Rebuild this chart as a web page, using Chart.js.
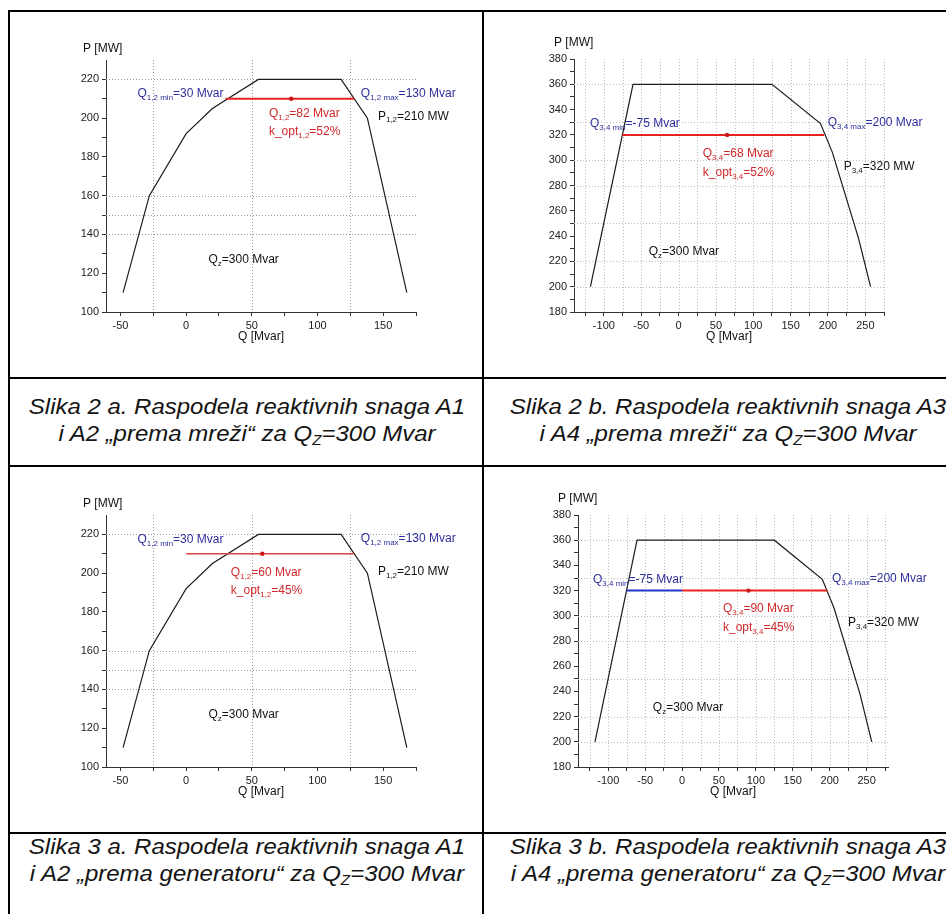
<!DOCTYPE html>
<html>
<head>
<meta charset="utf-8">
<script src="https://cdn.jsdelivr.net/npm/chart.js@4.4.1/dist/chart.umd.min.js"></script>
<style>
  body { margin:0; width:946px; height:914px; overflow:hidden; position:relative; background:#fff; font-family:"Liberation Sans", Arial, sans-serif; }
  .rule { position:absolute; background:#000; }
  .box { position:absolute; }
  .cap { position:absolute; width:470px; font-style:italic; font-size:22px; line-height:26.7px; text-align:center; color:#141414; white-space:nowrap; transform:scaleX(1.09); transform-origin:50% 50%; }
  .cap sub { font-size:14px; vertical-align:-4px; line-height:0; }
</style>
</head>
<body>
<div class="rule" style="left:8px;top:10px;width:2px;height:904px"></div>
<div class="rule" style="left:8px;top:10px;width:938px;height:2px"></div>
<div class="rule" style="left:482px;top:10px;width:2px;height:904px"></div>
<div class="rule" style="left:8px;top:377px;width:938px;height:2px"></div>
<div class="rule" style="left:8px;top:465px;width:938px;height:2px"></div>
<div class="rule" style="left:8px;top:832px;width:938px;height:2px"></div>

<div class="box" style="left:10px;top:12px"><canvas id="c1" width="472" height="365"></canvas></div>
<div class="box" style="left:484px;top:12px"><canvas id="c2" width="462" height="365"></canvas></div>
<div class="box" style="left:10px;top:467px"><canvas id="c3" width="472" height="365"></canvas></div>
<div class="box" style="left:484px;top:467px"><canvas id="c4" width="462" height="365"></canvas></div>

<div class="cap" style="left:12px;top:394px">Slika 2 a. Raspodela reaktivnih snaga A1<br>i A2 „prema mreži“ za Q<sub>Z</sub>=300 Mvar</div>
<div class="cap" style="left:493px;top:394px">Slika 2 b. Raspodela reaktivnih snaga A3<br>i A4 „prema mreži“ za Q<sub>Z</sub>=300 Mvar</div>
<div class="cap" style="left:12px;top:834px">Slika 3 a. Raspodela reaktivnih snaga A1<br>i A2 „prema generatoru“ za Q<sub>Z</sub>=300 Mvar</div>
<div class="cap" style="left:493px;top:834px">Slika 3 b. Raspodela reaktivnih snaga A3<br>i A4 „prema generatoru“ za Q<sub>Z</sub>=300 Mvar</div>

<script>
// capability curve of A1/A2 (Q in Mvar, P in MW)
let qA = [-48, -28, 0, 20, 55, 118, 138, 168];
let pA = [110, 160, 192, 205, 220, 220, 200, 110];
// capability curve of A3/A4
let qB = [-118, -61, 125, 190, 206, 241, 257];
let pB = [200, 360, 360, 329, 306, 238, 200];

// operating lines, one entry per panel: 2a, 2b, 3a, 3b
let pSet = [210, 320, 210, 320];
let redFrom = [30, -75, 0, 0];
let redTo = [128, 195, 128, 197];
let blueFrom = [null, null, null, -75];
let blueTo = [null, null, null, 0];
let qDot = [80, 65, 58, 90];

// tick labels
let qLabelsA = [-50, 0, 50, 100, 150];
let pLabelsA = [100, 120, 140, 160, 180, 200, 220];
let qLabelsB = [-100, -50, 0, 50, 100, 150, 200, 250];
let pLabelsB = [180, 200, 220, 240, 260, 280, 300, 320, 340, 360, 380];

// dotted guide lines
let qGuideA = [-25, 50, 125];
let pGuideA = [220, 160, 150, 140];
let qGuideB = [-125, -100, -75, -50, -25, 0, 25, 50, 75, 100, 125, 150, 175, 200, 225, 250, 275];
let pGuideB = [360, 330, 300, 280, 250, 220, 200];

const BLUE = '#2e2f9c';
const RED = '#d2282a';
const FONT = '"Liberation Sans", Arial, sans-serif';

function range(a, b, step) {
  let out = [];
  for (let v = a; v <= b + 1e-9; v += step) out.push(v);
  return out;
}

function drawParts(ctx, x, y, parts, color) {
  ctx.fillStyle = color;
  ctx.textBaseline = 'middle';
  parts.forEach(function (p) {
    if (p[1]) {
      ctx.font = '8px ' + FONT;
      ctx.fillText(p[0], x, y + 4);
    } else {
      ctx.font = '12px ' + FONT;
      ctx.fillText(p[0], x, y);
    }
    x += ctx.measureText(p[0]).width;
  });
}

let guides = {
  id: 'guides',
  beforeDatasetsDraw(chart, args, opts) {
    let ctx = chart.ctx, a = chart.chartArea, x = chart.scales.x, y = chart.scales.y;
    ctx.save();
    ctx.strokeStyle = opts.color;
    ctx.lineWidth = 1;
    ctx.setLineDash([1, 2]);
    opts.q.forEach(function (v) {
      let px = Math.round(x.getPixelForValue(v)) + 0.5;
      ctx.beginPath(); ctx.moveTo(px, a.top); ctx.lineTo(px, a.bottom); ctx.stroke();
    });
    opts.p.forEach(function (v) {
      let py = Math.round(y.getPixelForValue(v)) + 0.5;
      ctx.beginPath(); ctx.moveTo(a.left, py); ctx.lineTo(a.right, py); ctx.stroke();
    });
    ctx.restore();
  }
};

let notes = {
  id: 'notes',
  afterDatasetsDraw(chart, args, opts) {
    let ctx = chart.ctx, a = chart.chartArea, x = chart.scales.x, y = chart.scales.y;
    ctx.save();
    ctx.textAlign = 'left';
    opts.items.forEach(function (n) {
      drawParts(ctx, x.getPixelForValue(n.q), y.getPixelForValue(n.p), n.parts, n.color);
    });
    drawParts(ctx, a.left + opts.title[0], a.top + opts.title[1], [['P [MW]']], '#111');
    ctx.restore();
  }
};

function panel(id, i, c) {
  let curve = c.q.map(function (v, k) { return { x: v, y: c.p[k] }; });
  let sets = [
    { data: [{ x: qDot[i], y: pSet[i] }], pointRadius: 2.2, pointBackgroundColor: '#c81818', pointBorderWidth: 0, showLine: false },
    { data: [{ x: redFrom[i], y: pSet[i] }, { x: redTo[i], y: pSet[i] }], borderColor: c.redColor, borderWidth: c.redWidth, pointRadius: 0, showLine: true }
  ];
  if (blueFrom[i] !== null) {
    sets.push({ data: [{ x: blueFrom[i], y: pSet[i] }, { x: blueTo[i], y: pSet[i] }], borderColor: '#2335c8', borderWidth: 2, pointRadius: 0, showLine: true });
  }
  sets.push({ data: curve, borderColor: '#1c1c1c', borderWidth: 1.2, pointRadius: 0, showLine: true });

  let axis = function (min, max, minor, labels, fit) {
    return {
      type: 'linear', min: min, max: max,
      afterBuildTicks: function (s) { s.ticks = minor.map(function (v) { return { value: v }; }); },
      ticks: {
        autoSkip: false, maxRotation: 0, padding: 3, color: '#222',
        font: { size: 11, family: FONT },
        callback: function (v) { return labels.includes(v) ? String(v) : ''; }
      },
      grid: { drawOnChartArea: false, tickLength: 4, color: '#333' },
      border: { color: '#333', width: 1 },
      afterFit: fit
    };
  };
  let xs = axis(c.xr[0], c.xr[1], c.qMinor, c.qLabels, function (s) { s.height = 36; });
  xs.title = { display: true, text: 'Q [Mvar]', color: '#111', font: { size: 12, family: FONT }, padding: { top: 2, bottom: 4 } };
  let ys = axis(c.yr[0], c.yr[1], c.pMinor, c.pLabels, function (s) { s.width = 40; });

  new Chart(document.getElementById(id), {
    type: 'scatter',
    data: { datasets: sets },
    options: {
      responsive: false, animation: false,
      layout: { padding: c.pad },
      scales: { x: xs, y: ys },
      plugins: {
        legend: { display: false }, tooltip: { enabled: false },
        guides: { q: c.gq, p: c.gp, color: c.guideColor },
        notes: { items: c.notes, title: c.title }
      }
    },
    plugins: [guides, notes]
  });
}

let sharedA = {
  q: qA, p: pA, xr: [-61, 175], yr: [100, 230],
  qMinor: range(-50, 175, 25), pMinor: range(100, 220, 10),
  qLabels: qLabelsA, pLabels: pLabelsA, gq: qGuideA, gp: pGuideA, guideColor: '#999999',
  pad: { left: 56, top: 48, right: 66, bottom: 29 }, title: [-23, -11]
};
let sharedB = {
  q: qB, p: pB, yr: [180, 380],
  qMinor: range(-125, 275, 25), pMinor: range(180, 380, 10),
  qLabels: qLabelsB, pLabels: pLabelsB, gq: qGuideB, gp: pGuideB, guideColor: '#bdbdbd',
  title: [-20, -16]
};

panel('c1', 0, Object.assign({}, sharedA, {
  redColor: '#e8231f', redWidth: 2,
  notes: [
    { q: -37, p: 212.8, color: BLUE, parts: [['Q'], ['1,2 min', 1], ['=30 Mvar']] },
    { q: 133, p: 212.8, color: BLUE, parts: [['Q'], ['1,2 max', 1], ['=130 Mvar']] },
    { q: 146, p: 201, color: '#111', parts: [['P'], ['1,2', 1], ['=210 MW']] },
    { q: 63, p: 202.5, color: RED, parts: [['Q'], ['1,2', 1], ['=82 Mvar']] },
    { q: 63, p: 193.2, color: RED, parts: [['k_opt'], ['1,2', 1], ['=52%']] },
    { q: 17, p: 126.8, color: '#111', parts: [['Q'], ['z', 1], ['=300 Mvar']] }
  ]
}));

panel('c2', 1, Object.assign({}, sharedB, {
  xr: [-140, 275], redColor: '#e8231f', redWidth: 2,
  pad: { left: 50, top: 47, right: 62, bottom: 29 },
  notes: [
    { q: -118.7, p: 328.7, color: BLUE, parts: [['Q'], ['3,4 min', 1], ['=-75 Mvar']] },
    { q: 199.6, p: 329.5, color: BLUE, parts: [['Q'], ['3,4 max', 1], ['=200 Mvar']] },
    { q: 221, p: 294.7, color: '#111', parts: [['P'], ['3,4', 1], ['=320 MW']] },
    { q: 32.4, p: 305, color: RED, parts: [['Q'], ['3,4', 1], ['=68 Mvar']] },
    { q: 32.4, p: 290, color: RED, parts: [['k_opt'], ['3,4', 1], ['=52%']] },
    { q: -40, p: 227.3, color: '#111', parts: [['Q'], ['z', 1], ['=300 Mvar']] }
  ]
}));

panel('c3', 2, Object.assign({}, sharedA, {
  redColor: '#dd4444', redWidth: 1.5,
  notes: [
    { q: -37, p: 217.2, color: BLUE, parts: [['Q'], ['1,2 min', 1], ['=30 Mvar']] },
    { q: 133, p: 217.7, color: BLUE, parts: [['Q'], ['1,2 max', 1], ['=130 Mvar']] },
    { q: 146, p: 200.6, color: '#111', parts: [['P'], ['1,2', 1], ['=210 MW']] },
    { q: 34, p: 200.1, color: RED, parts: [['Q'], ['1,2', 1], ['=60 Mvar']] },
    { q: 34, p: 190.8, color: RED, parts: [['k_opt'], ['1,2', 1], ['=45%']] },
    { q: 17, p: 127, color: '#111', parts: [['Q'], ['z', 1], ['=300 Mvar']] }
  ]
}));

panel('c4', 3, Object.assign({}, sharedB, {
  xr: [-141, 279], redColor: '#e8231f', redWidth: 2,
  pad: { left: 54, top: 48, right: 58, bottom: 29 },
  notes: [
    { q: -120.7, p: 328.5, color: BLUE, parts: [['Q'], ['3,4 min', 1], ['=-75 Mvar']] },
    { q: 203, p: 329.2, color: BLUE, parts: [['Q'], ['3,4 max', 1], ['=200 Mvar']] },
    { q: 224.8, p: 294.3, color: '#111', parts: [['P'], ['3,4', 1], ['=320 MW']] },
    { q: 55.4, p: 305.4, color: RED, parts: [['Q'], ['3,4', 1], ['=90 Mvar']] },
    { q: 55.4, p: 290.4, color: RED, parts: [['k_opt'], ['3,4', 1], ['=45%']] },
    { q: -39.6, p: 227.2, color: '#111', parts: [['Q'], ['z', 1], ['=300 Mvar']] }
  ]
}));
</script>
</body>
</html>
